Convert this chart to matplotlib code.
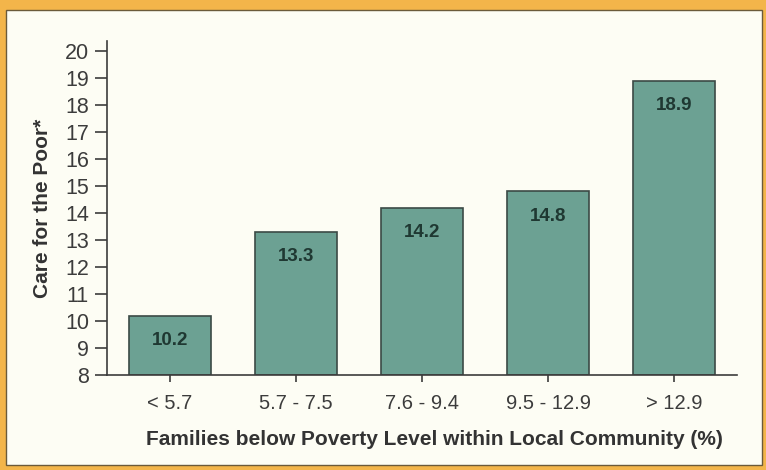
import matplotlib
matplotlib.use("Agg")
import matplotlib.pyplot as plt
from matplotlib.patches import Rectangle

categories = ["< 5.7", "5.7 - 7.5", "7.6 - 9.4", "9.5 - 12.9", "> 12.9"]
values = [10.2, 13.3, 14.2, 14.8, 18.9]
yticks = list(range(8, 21))

plt.rcParams['font.family'] = ['Liberation Sans', 'DejaVu Sans']

W, H = 766, 470
fig = plt.figure(figsize=(W / 100, H / 100), dpi=100)
fig.patch.set_facecolor('#f3b54a')
panel = Rectangle((6 / W, 5 / H), 756 / W, 455 / H, transform=fig.transFigure,
                  facecolor='#fdfdf4', edgecolor='#6b5a3a', linewidth=1.0, zorder=-10)
fig.patches.append(panel)

ax = fig.add_axes([107 / W, 1 - 375 / H, (737 - 107) / W, (375 - 41) / H])
ax.set_facecolor('none')
ax.set_zorder(5)

x = list(range(len(categories)))
ax.bar(x, [v - 8 for v in values], bottom=8, width=0.65, color='#6ca193',
       edgecolor='#3b4a45', linewidth=1.2, zorder=2)
for xi, v in zip(x, values):
    ax.text(xi, v - 0.92, f"{v:.1f}", ha='center', va='center', fontsize=13.5,
            fontweight='bold', color='#1f3832', zorder=3)

ax.set_xlim(-0.5, 4.5)
ax.set_ylim(8, 20.37)
ax.set_yticks(yticks)
ax.set_yticklabels([str(t) for t in yticks])
ax.set_xticks(x)
ax.set_xticklabels(categories)

for s in ['top', 'right']:
    ax.spines[s].set_visible(False)
for s in ['left', 'bottom']:
    ax.spines[s].set_color('#3c3c3c')
    ax.spines[s].set_linewidth(1.2)

ax.tick_params(axis='y', direction='out', length=9, width=1.2, color='#3c3c3c',
               labelsize=15.5, labelcolor='#3c3c3c', pad=4)
ax.tick_params(axis='x', direction='out', length=5, width=1.2, color='#3c3c3c',
               labelsize=14.5, labelcolor='#3c3c3c', pad=9)

ax.set_ylabel("Care for the Poor*", fontsize=15, fontweight='bold', color='#333333',
              labelpad=9)
ax.set_xlabel("Families below Poverty Level within Local Community (%)", fontsize=15,
              fontweight='bold', color='#333333', labelpad=10)
ax.xaxis.set_label_coords(0.519, -0.165)

fig.savefig("out.png", dpi=100, facecolor=fig.get_facecolor())
